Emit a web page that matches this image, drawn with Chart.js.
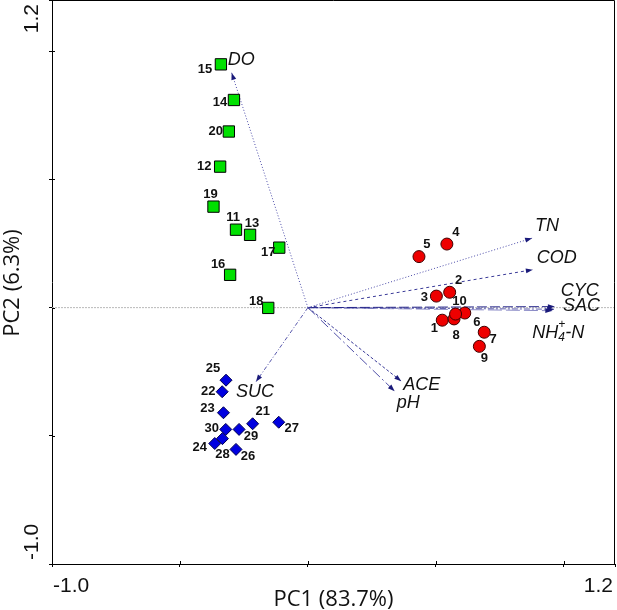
<!DOCTYPE html>
<html>
<head>
<meta charset="utf-8">
<script src="https://cdn.jsdelivr.net/npm/chart.js@4.4.1/dist/chart.umd.min.js"></script>
<style>
  html, body { margin: 0; padding: 0; background: #fff; }
  #wrap { width: 617px; height: 610px; }
</style>
</head>
<body>
<div id="wrap"><canvas id="biplot"></canvas></div>
<script>
// samples 11-20 (green squares)
const idsA = ['15', '14', '20', '12', '19', '11', '13', '17', '16', '18'];
const pc1A = [-0.340, -0.289, -0.309, -0.343, -0.369, -0.281, -0.226, -0.112, -0.304, -0.155];
const pc2A = [0.949, 0.810, 0.687, 0.550, 0.394, 0.304, 0.284, 0.234, 0.128, -0.001];

// samples 21-30 (blue diamonds)
const idsB = ['25', '22', '23', '21', '27', '30', '29', '28', '24', '26'];
const pc1B = [-0.320, -0.335, -0.330, -0.216, -0.114, -0.321, -0.269, -0.334, -0.364, -0.281];
const pc2B = [-0.283, -0.328, -0.410, -0.453, -0.447, -0.475, -0.475, -0.511, -0.530, -0.553];

// samples 1-10 (red circles)
const idsC = ['1', '2', '3', '4', '5', '6', '7', '8', '9', '10'];
const pc1C = [0.525, 0.554, 0.502, 0.543, 0.434, 0.613, 0.689, 0.571, 0.670, 0.577];
const pc2C = [-0.049, 0.060, 0.045, 0.248, 0.199, -0.021, -0.096, -0.044, -0.151, -0.025];

// variable loadings
const vars = ['DO', 'TN', 'COD', 'CYC', 'SAC', 'NH4+-N', 'ACE', 'pH', 'SUC'];
const loadX = [-0.298, 0.876, 0.879, 0.965, 0.962, 0.955, 0.365, 0.339, -0.203];
const loadY = [0.916, 0.271, 0.148, 0.004, -0.006, -0.012, -0.287, -0.326, -0.289];

const axisTicks = [-1.0, -0.5, 0, 0.5, 1.0, 1.2];
const endLabels = ['-1.0', '1.2'];
const xTitle = 'PC1 (83.7%)';
const yTitle = 'PC2 (6.3%)';

// label placement (pixel offsets from the mark)
const offA = [[-16, 5], [-14, 2], [-13, 0], [-16, 0], [-3, -12], [-3, -12], [2, -11], [-11, 5], [-12, -10], [-12, -6]];
const offB = [[-13, -12], [-14, 0], [-16, -4], [10, -12], [13, 6], [-14, -1], [12, 7], [0, 16], [-15, 4], [12, 7]];
const offC = [[-8, 8], [9, -12], [-12, 1], [9, -12], [8, -12], [12, 9], [9, 7], [2, 17], [5, 12], [4, -13]];
const offV = [[-4, -13], [3, -12], [4, -12], [6, -16], [9, -3], [-20, 22], [2, 4], [2, 12], [-20, 10]];
const dashV = [[1, 2], [1, 2], [3, 3], [10, 3], [6, 2, 2, 2], [14, 4], [3, 2], [10, 3, 2, 3], [4, 2, 1, 2]];
const colV = ['#4a4aa8', '#4a4aa8', '#3a3a98', '#24248a', '#6060b0', '#8a8ac6', '#3a3a98', '#5050a8', '#5858ac'];

const pts = (xs, ys) => xs.map((v, i) => ({x: v, y: ys[i]}));

const arrowSets = vars.map((v, i) => ({
  type: 'line',
  label: v,
  data: [{x: 0, y: 0}, {x: loadX[i], y: loadY[i]}],
  borderColor: colV[i],
  borderWidth: 1,
  borderDash: dashV[i],
  pointRadius: 0,
  fill: false,
  order: 2
}));

const baseLine = {
  type: 'line',
  label: 'zero',
  data: [{x: -1.0, y: 0}, {x: 1.2, y: 0}],
  borderColor: '#b8b8b8',
  borderWidth: 1,
  borderDash: [2, 1],
  pointRadius: 0,
  order: 3
};

const overlay = {
  id: 'overlay',
  afterDatasetsDraw(chart) {
    const ctx = chart.ctx, sx = chart.scales.x, sy = chart.scales.y;
    const ox = sx.getPixelForValue(0), oy = sy.getPixelForValue(0);
    ctx.save();
    // arrow heads
    vars.forEach((v, i) => {
      const tx = sx.getPixelForValue(loadX[i]), ty = sy.getPixelForValue(loadY[i]);
      const a = Math.atan2(ty - oy, tx - ox);
      ctx.fillStyle = '#1a1a7a';
      ctx.beginPath();
      ctx.moveTo(tx, ty);
      ctx.lineTo(tx - 7 * Math.cos(a) + 2.5 * Math.sin(a), ty - 7 * Math.sin(a) - 2.5 * Math.cos(a));
      ctx.lineTo(tx - 7 * Math.cos(a) - 2.5 * Math.sin(a), ty - 7 * Math.sin(a) + 2.5 * Math.cos(a));
      ctx.closePath();
      ctx.fill();
    });
    // variable names
    ctx.fillStyle = '#111';
    ctx.textBaseline = 'middle';
    ctx.textAlign = 'left';
    vars.forEach((v, i) => {
      const tx = sx.getPixelForValue(loadX[i]) + offV[i][0];
      const ty = sy.getPixelForValue(loadY[i]) + offV[i][1];
      ctx.font = 'italic 18px "Liberation Sans", Arial, sans-serif';
      if (v === 'NH4+-N') {
        ctx.fillText('NH', tx, ty);
        let w = ctx.measureText('NH').width;
        ctx.font = 'italic 12px "Liberation Sans", Arial, sans-serif';
        ctx.fillText('+', tx + w, ty - 8);
        ctx.fillText('4', tx + w, ty + 5);
        w += ctx.measureText('+').width;
        ctx.font = 'italic 18px "Liberation Sans", Arial, sans-serif';
        ctx.fillText('-N', tx + w, ty);
      } else {
        ctx.fillText(v, tx, ty);
      }
    });
    // sample numbers
    ctx.font = 'bold 13px "Liberation Sans", Arial, sans-serif';
    ctx.textAlign = 'center';
    [[idsA, pc1A, pc2A, offA], [idsB, pc1B, pc2B, offB], [idsC, pc1C, pc2C, offC]].forEach(([ids, xs, ys, off]) => {
      ids.forEach((id, i) => {
        ctx.fillText(id, sx.getPixelForValue(xs[i]) + off[i][0], sy.getPixelForValue(ys[i]) + off[i][1]);
      });
    });
    ctx.restore();
  },
  afterDraw(chart) {
    const ctx = chart.ctx, a = chart.chartArea, sx = chart.scales.x, sy = chart.scales.y;
    ctx.save();
    ctx.strokeStyle = '#000';
    ctx.lineWidth = 1;
    ctx.beginPath();
    ctx.moveTo(a.left, a.top + 0.5);
    ctx.lineTo(a.right - 0.5, a.top + 0.5);
    ctx.lineTo(a.right - 0.5, a.bottom);
    ctx.stroke();
    // inner halves of tick marks
    ctx.beginPath();
    axisTicks.slice(1, 5).forEach(t => {
      const px = Math.round(sx.getPixelForValue(t)) + 0.5;
      ctx.moveTo(px, a.bottom); ctx.lineTo(px, a.bottom - 3);
      const py = Math.round(sy.getPixelForValue(t)) + 0.5;
      ctx.moveTo(a.left, py); ctx.lineTo(a.left + 3, py);
    });
    ctx.stroke();
    ctx.fillStyle = '#111';
    ctx.textBaseline = 'middle';
    // x end labels
    ctx.font = '21px "Liberation Sans", Arial, sans-serif';
    ctx.textAlign = 'left';
    ctx.fillText(endLabels[0], sx.getPixelForValue(-1.0) + 1, a.bottom + 22);
    ctx.textAlign = 'right';
    ctx.fillText(endLabels[1], sx.getPixelForValue(1.2) - 2, a.bottom + 22);
    // y end labels, rotated
    ctx.save();
    ctx.translate(32, 0);
    ctx.rotate(-Math.PI / 2);
    ctx.textAlign = 'left';
    ctx.fillText(endLabels[0], -(sy.getPixelForValue(-1.0) - 4), 0);
    ctx.textAlign = 'right';
    ctx.fillText(endLabels[1], -(sy.getPixelForValue(1.2) + 4), 0);
    ctx.restore();
    // titles
    ctx.font = '22px "Open Sans", sans-serif';
    ctx.textAlign = 'center';
    ctx.fillText(xTitle, (a.left + a.right) / 2, a.bottom + 36);
    ctx.save();
    ctx.translate(13, 283);
    ctx.rotate(-Math.PI / 2);
    ctx.fillText(yTitle, 0, 0);
    ctx.restore();
    ctx.restore();
  }
};

const axisOpts = (fitProp, size) => ({
  type: 'linear',
  min: -1.0,
  max: 1.2,
  afterBuildTicks: s => { s.ticks = axisTicks.map(v => ({value: v})); },
  afterFit: s => { s[fitProp] = size; },
  ticks: {display: false},
  grid: {drawOnChartArea: false, drawTicks: true, tickLength: 3, color: '#000'},
  border: {display: true, color: '#000', width: 1}
});

new Chart(document.getElementById('biplot'), {
  type: 'scatter',
  data: {
    datasets: [
      {
        label: 'Samples 11-20',
        data: pts(pc1A, pc2A),
        pointStyle: 'rect',
        pointRadius: 8,
        backgroundColor: '#00e000',
        borderColor: '#000',
        borderWidth: 1,
        order: 0
      },
      {
        label: 'Samples 21-30',
        data: pts(pc1B, pc2B),
        pointStyle: 'rectRot',
        pointRadius: 6,
        backgroundColor: '#0000e0',
        borderColor: '#000050',
        borderWidth: 1,
        order: 0
      },
      {
        label: 'Samples 1-10',
        data: pts(pc1C, pc2C),
        pointStyle: 'circle',
        pointRadius: 6,
        backgroundColor: '#ee0000',
        borderColor: '#400000',
        borderWidth: 1,
        order: 0
      },
      ...arrowSets,
      baseLine
    ]
  },
  options: {
    responsive: true,
    maintainAspectRatio: false,
    animation: false,
    layout: {autoPadding: false, padding: {top: 0, right: 2, left: 0, bottom: 0}},
    plugins: {legend: {display: false}, tooltip: {enabled: false}},
    scales: {
      x: axisOpts('height', 46),
      y: axisOpts('width', 52)
    }
  },
  plugins: [overlay]
});
</script>
</body>
</html>
